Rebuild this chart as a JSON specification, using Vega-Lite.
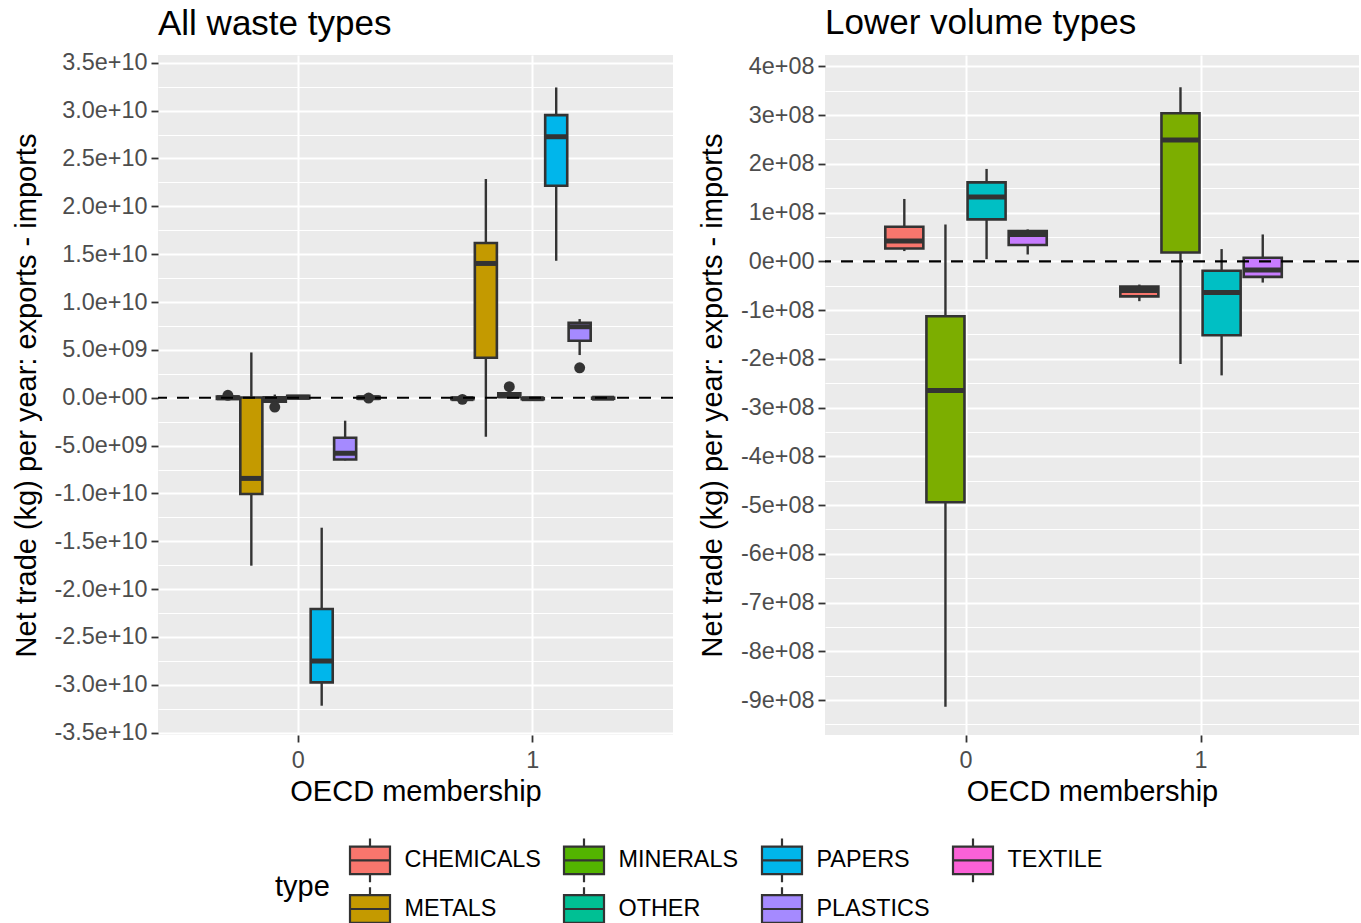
{
  "$schema": "https://vega.github.io/schema/vega-lite/v6.json",
  "padding": {"left": 12, "top": 5, "right": 0, "bottom": 0},
  "background": "white",
  "spacing": 152,
  "bounds": "flush",
  "config": {
    "font": "Liberation Sans",
    "view": {"fill": "#EBEBEB", "stroke": null},
    "axis": {
      "domain": false,
      "labelFont": "Liberation Sans",
      "labelFontSize": 23.4,
      "labelColor": "#4D4D4D",
      "tickColor": "#333333",
      "tickSize": 7,
      "tickWidth": 1.8,
      "titleFont": "Liberation Sans",
      "titleFontSize": 29,
      "titleFontWeight": "normal",
      "titleColor": "black",
      "gridColor": "white"
    },
    "title": {"font": "Liberation Sans", "fontSize": 35, "fontWeight": "normal", "color": "black"}
  },
  "datasets": {
    "all_box": [
      {"oecd": 0, "type": "CHEMICALS", "lower": -2e8, "q1": -1.2e8, "median": 0, "q3": 1.2e8, "upper": 1.5e8},
      {"oecd": 0, "type": "METALS", "lower": -1.755e10, "q1": -1.006e10, "median": -8.43e9, "q3": 2e7, "upper": 4.73e9},
      {"oecd": 0, "type": "MINERALS", "lower": -5e8, "q1": -4.2e8, "median": -1.5e8, "q3": 5e7, "upper": 3.3e8},
      {"oecd": 0, "type": "OTHER", "lower": -1.5e8, "q1": -8e7, "median": 5e7, "q3": 2e8, "upper": 2.5e8},
      {"oecd": 0, "type": "PAPERS", "lower": -3.218e10, "q1": -2.974e10, "median": -2.751e10, "q3": -2.207e10, "upper": -1.358e10},
      {"oecd": 0, "type": "PLASTICS", "lower": -6.55e9, "q1": -6.45e9, "median": -5.8e9, "q3": -4.18e9, "upper": -2.4e9},
      {"oecd": 0, "type": "TEXTILE", "lower": -1.5e8, "q1": -1e8, "median": 0, "q3": 1e8, "upper": 1.5e8},
      {"oecd": 1, "type": "CHEMICALS", "lower": -2e8, "q1": -1.5e8, "median": -1e8, "q3": -2e7, "upper": 2e7},
      {"oecd": 1, "type": "METALS", "lower": -4.07e9, "q1": 4.18e9, "median": 1.403e10, "q3": 1.616e10, "upper": 2.285e10},
      {"oecd": 1, "type": "MINERALS", "lower": 0, "q1": 8e7, "median": 2e8, "q3": 4.5e8, "upper": 6e8},
      {"oecd": 1, "type": "OTHER", "lower": -2e8, "q1": -1.5e8, "median": -1e8, "q3": -5e7, "upper": 0},
      {"oecd": 1, "type": "PAPERS", "lower": 1.431e10, "q1": 2.215e10, "median": 2.727e10, "q3": 2.953e10, "upper": 3.242e10},
      {"oecd": 1, "type": "PLASTICS", "lower": 4.46e9, "q1": 5.96e9, "median": 7.42e9, "q3": 7.84e9, "upper": 8.22e9},
      {"oecd": 1, "type": "TEXTILE", "lower": -1.5e8, "q1": -1e8, "median": -5e7, "q3": 0, "upper": 3e7}
    ],
    "all_out": [
      {"oecd": 0, "type": "CHEMICALS", "value": 2.5e8},
      {"oecd": 0, "type": "MINERALS", "value": -9.7e8},
      {"oecd": 0, "type": "TEXTILE", "value": -3e7},
      {"oecd": 1, "type": "CHEMICALS", "value": -1.7e8},
      {"oecd": 1, "type": "MINERALS", "value": 1.15e9},
      {"oecd": 1, "type": "PLASTICS", "value": 3.13e9}
    ],
    "low_box": [
      {"oecd": 0, "type": "CHEMICALS", "lower": 2.1e7, "q1": 2.63e7, "median": 4.15e7, "q3": 7.09e7, "upper": 1.279e8},
      {"oecd": 0, "type": "MINERALS", "lower": -9.137e8, "q1": -4.943e8, "median": -2.648e8, "q3": -1.126e8, "upper": 7.56e7},
      {"oecd": 0, "type": "OTHER", "lower": 4.5e6, "q1": 8.6e7, "median": 1.32e8, "q3": 1.62e8, "upper": 1.895e8},
      {"oecd": 0, "type": "PLASTICS", "lower": 1.4e7, "q1": 3.33e7, "median": 5.5e7, "q3": 6.2e7, "upper": 6.54e7},
      {"oecd": 1, "type": "CHEMICALS", "lower": -8.18e7, "q1": -7.2e7, "median": -6e7, "q3": -5.2e7, "upper": -4.77e7},
      {"oecd": 1, "type": "MINERALS", "lower": -2.107e8, "q1": 1.81e7, "median": 2.49e8, "q3": 3.038e8, "upper": 3.573e8},
      {"oecd": 1, "type": "OTHER", "lower": -2.34e8, "q1": -1.517e8, "median": -6.41e7, "q3": -1.95e7, "upper": 2.51e7},
      {"oecd": 1, "type": "PLASTICS", "lower": -4.36e7, "q1": -3.19e7, "median": -1.8e7, "q3": 7.2e6, "upper": 5.51e7}
    ]
  },
  "resolve": {"scale": {"fill": "independent", "xOffset": "independent", "x": "independent", "y": "independent"}, "legend": {"fill": "independent"}},
  "hconcat": [
    {
      "width": 515,
      "height": 680,
      "title": {"text": "All waste types", "anchor": "start", "frame": "group", "baseline": "alphabetic", "offset": -19},
      "resolve": {"axis": {"y": "independent"}},
      "layer": [
        {
          "data": {"name": "all_box"},
          "mark": {"type": "rule", "color": "#333333", "strokeWidth": 2.4},
          "encoding": {
            "x": {"field": "oecd", "type": "ordinal", "title": "OECD membership",
                  "scale": {"domain": [0, 1], "paddingInner": 0.3, "paddingOuter": 0.248},
                  "axis": {"grid": true, "gridWidth": 2, "bandPosition": 0.5, "labelAngle": 0, "labelPadding": 7, "titlePadding": 6}},
            "xOffset": {"field": "type", "type": "nominal",
                  "scale": {"domain": ["CHEMICALS", "METALS", "MINERALS", "OTHER", "PAPERS", "PLASTICS", "TEXTILE"], "paddingInner": 0.06, "paddingOuter": 0.03}},
            "y": {"field": "lower", "type": "quantitative", "title": "Net trade (kg) per year: exports - imports",
                  "scale": {"domain": [-3.524e10, 3.581e10], "nice": false, "zero": false},
                  "axis": {
                    "orient": "left",
                    "grid": true,
                    "gridWidth": 2,
                    "values": [-3.5e10, -3e10, -2.5e10, -2e10, -1.5e10, -1e10, -5e9, 0, 5e9, 1e10, 1.5e10, 2e10, 2.5e10, 3e10, 3.5e10],
                    "labelExpr": "(datum.value < 0 ? '-' : '') + replace(format(abs(datum.value), '.1e'), regexp('e[+]([0-9])$'), 'e+0$1')",
                    "labelOverlap": false,
                    "labelPadding": 4,
                    "titlePadding": 13
                  }},
            "y2": {"field": "upper"}
          }
        },
        {
          "data": {"name": "all_box"},
          "mark": {"type": "bar", "stroke": "#333333", "strokeWidth": 2.6, "fillOpacity": 1},
          "encoding": {
            "x": {"field": "oecd", "type": "ordinal", "title": "OECD membership"},
            "xOffset": {"field": "type", "type": "nominal"},
            "y": {"field": "q1", "type": "quantitative", "axis": null},
            "y2": {"field": "q3"},
            "fill": {"field": "type", "type": "nominal",
                     "scale": {"domain": ["CHEMICALS", "MINERALS", "PAPERS", "TEXTILE", "METALS", "OTHER", "PLASTICS"],
                               "range": ["#F8766D", "#53B400", "#00B6EB", "#FB61D7", "#C49A00", "#00C094", "#A58AFF"]},
                     "legend": {
                       "orient": "none", "legendX": 117, "legendY": 783,
                       "direction": "horizontal", "columns": 4,
                       "title": "type", "titleOrient": "left", "titleAnchor": "middle", "titleBaseline": "middle",
                       "titleFontSize": 29, "titleFontWeight": "normal", "titleColor": "black", "titleFont": "Liberation Sans", "titlePadding": 18,
                       "labelFontSize": 23.4, "labelColor": "black", "labelFont": "Liberation Sans", "labelOffset": 12.5,
                       "symbolType": "M-0.964,-0.665H0.964V0.665H-0.964Z M0,-0.665V-1.05 M0,0.665V1.05 M-0.964,0H0.964",
                       "symbolSize": 1722, "symbolStrokeColor": "#333333", "symbolStrokeWidth": 2.2, "symbolOpacity": 1,
                       "rowPadding": -7, "columnPadding": 18, "padding": 0
                     }}
          }
        },
        {
          "data": {"name": "all_box"},
          "mark": {"type": "tick", "color": "#333333", "size": 22, "thickness": 5, "orient": "horizontal", "opacity": 1},
          "encoding": {
            "x": {"field": "oecd", "type": "ordinal", "title": "OECD membership"},
            "xOffset": {"field": "type", "type": "nominal"},
            "y": {"field": "median", "type": "quantitative", "axis": null}
          }
        },
        {
          "data": {"name": "all_out"},
          "mark": {"type": "point", "filled": true, "color": "#333333", "size": 120, "opacity": 1},
          "encoding": {
            "x": {"field": "oecd", "type": "ordinal", "title": "OECD membership"},
            "xOffset": {"field": "type", "type": "nominal"},
            "y": {"field": "value", "type": "quantitative", "axis": null}
          }
        },
        {
          "data": {"values": [{}]},
          "mark": {"type": "rule", "strokeDash": [12, 10], "strokeWidth": 2.2, "color": "black"},
          "encoding": {"y": {"datum": 0, "type": "quantitative",
            "axis": {"orient": "right", "grid": true, "gridWidth": 1, "zindex": 0, "labels": false, "ticks": false, "domain": false, "title": null,
                     "values": [-3.25e10, -2.75e10, -2.25e10, -1.75e10, -1.25e10, -7.5e9, -2.5e9, 2.5e9, 7.5e9, 1.25e10, 1.75e10, 2.25e10, 2.75e10, 3.25e10]}}}
        }
      ]
    },
    {
      "width": 534,
      "height": 680,
      "title": {"text": "Lower volume types", "anchor": "start", "frame": "group", "baseline": "alphabetic", "offset": -14.5},
      "resolve": {"axis": {"y": "independent"}},
      "layer": [
        {
          "data": {"name": "low_box"},
          "mark": {"type": "rule", "color": "#333333", "strokeWidth": 2.4},
          "encoding": {
            "x": {"field": "oecd", "type": "ordinal", "title": "OECD membership",
                  "scale": {"domain": [0, 1], "paddingInner": 0.3, "paddingOuter": 0.286, "align": 0.437},
                  "axis": {"grid": true, "gridWidth": 2, "bandPosition": 0.5, "labelAngle": 0, "labelPadding": 7, "titlePadding": 6}},
            "xOffset": {"field": "type", "type": "nominal",
                  "scale": {"domain": ["CHEMICALS", "MINERALS", "OTHER", "PLASTICS"], "paddingInner": 0.075, "paddingOuter": 0.0375}},
            "y": {"field": "lower", "type": "quantitative", "title": "Net trade (kg) per year: exports - imports",
                  "scale": {"domain": [-9.717e8, 4.232e8], "nice": false, "zero": false},
                  "axis": {
                    "orient": "left",
                    "grid": true,
                    "gridWidth": 2,
                    "values": [-900000000, -800000000, -700000000, -600000000, -500000000, -400000000, -300000000, -200000000, -100000000, 0, 100000000, 200000000, 300000000, 400000000],
                    "labelExpr": "(datum.value < 0 ? '-' : '') + replace(format(abs(datum.value), '.0e'), regexp('e[+]([0-9])$'), 'e+0$1')",
                    "labelOverlap": false,
                    "labelPadding": 4,
                    "titlePadding": 13
                  }},
            "y2": {"field": "upper"}
          }
        },
        {
          "data": {"name": "low_box"},
          "mark": {"type": "bar", "stroke": "#333333", "strokeWidth": 2.6, "fillOpacity": 1},
          "encoding": {
            "x": {"field": "oecd", "type": "ordinal", "title": "OECD membership"},
            "xOffset": {"field": "type", "type": "nominal"},
            "y": {"field": "q1", "type": "quantitative", "axis": null},
            "y2": {"field": "q3"},
            "fill": {"field": "type", "type": "nominal",
                     "scale": {"domain": ["CHEMICALS", "MINERALS", "OTHER", "PLASTICS"],
                               "range": ["#F8766D", "#7CAE00", "#00BFC4", "#C77CFF"]},
                     "legend": null}
          }
        },
        {
          "data": {"name": "low_box"},
          "mark": {"type": "tick", "color": "#333333", "size": 38, "thickness": 5, "orient": "horizontal", "opacity": 1},
          "encoding": {
            "x": {"field": "oecd", "type": "ordinal", "title": "OECD membership"},
            "xOffset": {"field": "type", "type": "nominal"},
            "y": {"field": "median", "type": "quantitative", "axis": null}
          }
        },
        {
          "data": {"values": [{}]},
          "mark": {"type": "rule", "strokeDash": [12, 10], "strokeWidth": 2.2, "color": "black"},
          "encoding": {"y": {"datum": 0, "type": "quantitative",
            "axis": {"orient": "right", "grid": true, "gridWidth": 1, "zindex": 0, "labels": false, "ticks": false, "domain": false, "title": null,
                     "values": [-950000000, -850000000, -750000000, -650000000, -550000000, -450000000, -350000000, -250000000, -150000000, -50000000, 50000000, 150000000, 250000000, 350000000]}}}
        }
      ]
    }
  ]
}
